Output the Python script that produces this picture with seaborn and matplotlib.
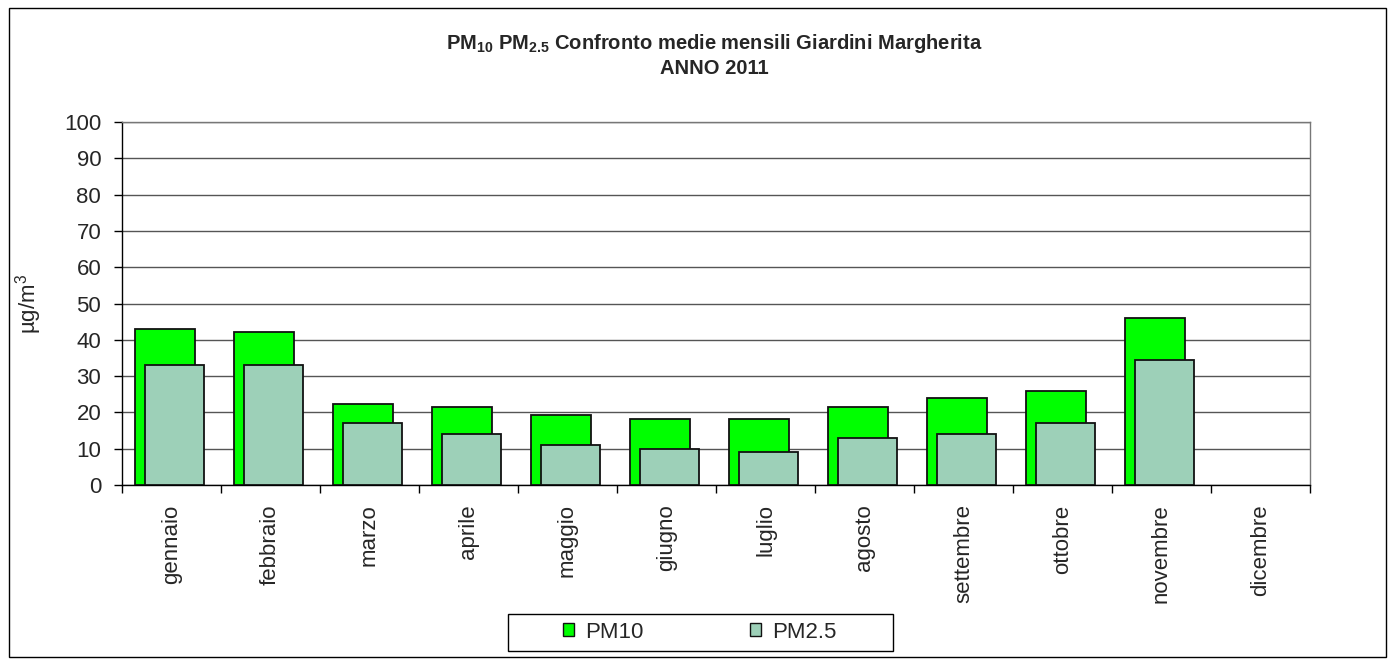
import numpy as np
import pandas as pd
import matplotlib
matplotlib.use("Agg")
import matplotlib.pyplot as plt
import seaborn as sns
from matplotlib.patches import Rectangle, Patch

months = ["gennaio", "febbraio", "marzo", "aprile", "maggio", "giugno",
          "luglio", "agosto", "settembre", "ottobre", "novembre", "dicembre"]
pm10 = [43.0, 42.2, 22.3, 21.5, 19.2, 18.3, 18.3, 21.5, 24.0, 26.0, 46.0, np.nan]
pm25 = [33.0, 33.0, 17.1, 14.0, 11.0, 10.0, 9.2, 13.0, 14.0, 17.0, 34.5, np.nan]
yticks = list(range(0, 101, 10))

sns.set_theme(style="white")
plt.rcParams["font.family"] = ["Liberation Sans", "DejaVu Sans"]
plt.rcParams["mathtext.fontset"] = "custom"
plt.rcParams["mathtext.rm"] = "Liberation Sans"
plt.rcParams["mathtext.bf"] = "Liberation Sans:bold"
plt.rcParams["mathtext.it"] = "Liberation Sans:italic"

W, H = 1396, 665
fig = plt.figure(figsize=(W / 100, H / 100), dpi=100)
ax = fig.add_axes([122/W, 1-485/H, (1310-122)/W, (485-122)/H])

idx = np.arange(len(months))
df = pd.DataFrame({"pos10": idx - 0.065, "pos25": idx + 0.03, "PM10": pm10, "PM2.5": pm25})

c10 = "#00ff00"
c25 = "#9dd0b8"
sns.barplot(data=df, x="pos10", y="PM10", native_scale=True, width=0.6,
            color=c10, saturation=1, edgecolor="#111111", linewidth=1.3, ax=ax, zorder=3)
sns.barplot(data=df, x="pos25", y="PM2.5", native_scale=True, width=0.6,
            color=c25, saturation=1, edgecolor="#111111", linewidth=1.3, ax=ax, zorder=4)

ax.set_xlim(-0.5, len(months) - 0.5)
ax.set_ylim(0, 100)
ax.set_yticks(yticks)
ax.set_yticklabels([str(v) for v in yticks], fontsize=16)
ax.set_xticks(idx)
ax.set_xticklabels(months, rotation=90, fontsize=16)
ax.set_xticks(np.arange(len(months) + 1) - 0.5, minor=True)
ax.tick_params(axis="x", which="major", length=0, pad=14)
ax.tick_params(axis="x", which="minor", length=6, width=1, color="black", direction="out", bottom=True)
ax.tick_params(axis="y", length=6, width=1, color="black", direction="out", left=True, pad=9)
ax.set_xlabel("")
ax.set_ylabel("")
fig.text(29/W, 1 - 304/H, "µg/m$^3$", rotation=90, ha="center", va="center", fontsize=16)

ax.yaxis.grid(True, color="#555555", linewidth=1)
ax.set_axisbelow(True)
for s in ["left", "bottom"]:
    ax.spines[s].set_color("black")
    ax.spines[s].set_linewidth(1)
for s in ["top", "right"]:
    ax.spines[s].set_color("#777777")
    ax.spines[s].set_linewidth(1)

fig.text(714/W, 1 - 49/H,
         r"$\mathbf{PM_{10}\ PM_{2.5}}$ Confronto medie mensili Giardini Margherita",
         ha="center", va="baseline", fontsize=14.5, fontweight="bold")
fig.text(714/W, 1 - 74/H, "ANNO 2011", ha="center", va="baseline",
         fontsize=14.5, fontweight="bold")

handles = [Patch(facecolor=c10, edgecolor="#111111", linewidth=1),
           Patch(facecolor=c25, edgecolor="#111111", linewidth=1)]
leg = fig.legend(handles, ["PM10", "PM2.5"], loc="center",
                 bbox_to_anchor=(700/W, 1 - 632/H), ncol=2, fontsize=16,
                 frameon=False, handlelength=0.5, handleheight=0.5,
                 handletextpad=0.5, columnspacing=4.8, borderpad=0)
fig.patches.append(Rectangle((508/W, 1 - 651/H), 385/W, 37/H,
                             transform=fig.transFigure, fill=False,
                             edgecolor="black", linewidth=1))

fig.patches.append(Rectangle((9/W, 8/H), 1377/W, 649/H,
                             transform=fig.transFigure, fill=False,
                             edgecolor="black", linewidth=1))

fig.savefig("out.png", dpi=100, facecolor="white")
